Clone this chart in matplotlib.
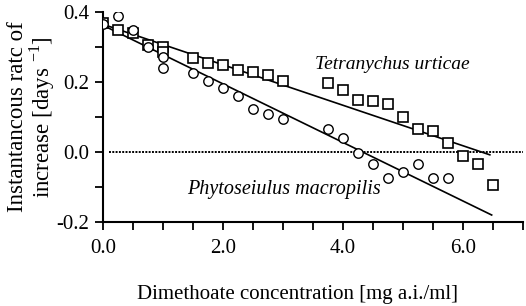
import matplotlib
matplotlib.use('Agg')
import matplotlib.pyplot as plt

plt.rcParams['font.family'] = 'Liberation Serif'
plt.rcParams['mathtext.fontset'] = 'custom'
plt.rcParams['mathtext.rm'] = 'Liberation Serif'

# Tetranychus urticae (squares)
tu_x = [0, 0.25, 0.5, 0.75, 1.0, 1.0, 1.5, 1.75, 2.0, 2.25, 2.5, 2.75, 3.0,
        3.75, 4.0, 4.25, 4.5, 4.75, 5.0, 5.25, 5.5, 5.75, 6.0, 6.25, 6.5]
tu_y = [0.368, 0.349, 0.339, 0.305, 0.300, 0.287, 0.270, 0.255, 0.249, 0.234,
        0.228, 0.220, 0.203, 0.196, 0.177, 0.150, 0.146, 0.136, 0.099, 0.065,
        0.061, 0.025, -0.011, -0.034, -0.094]

# Phytoseiulus macropilis (circles)
pm_x = [0, 0.25, 0.5, 0.75, 1.0, 1.0, 1.5, 1.75, 2.0, 2.25, 2.5, 2.75, 3.0,
        3.75, 4.0, 4.25, 4.5, 4.75, 5.0, 5.25, 5.5, 5.75]
pm_y = [0.365, 0.389, 0.349, 0.300, 0.272, 0.241, 0.227, 0.203, 0.182, 0.160,
        0.122, 0.108, 0.094, 0.065, 0.039, -0.004, -0.035, -0.073, -0.056,
        -0.035, -0.073, -0.073]

# fitted lines
tu_fit_x = [0, 6.45]
tu_fit_y = [0.365, -0.008]
pm_fit_x = [0, 6.48]
pm_fit_y = [0.362, -0.180]

zero_x = [0.1, 7.0]
zero_y = [0, 0]

xticks = [0, 2, 4, 6]
xticklabels = ['0.0', '2.0', '4.0', '6.0']
yticks = [-0.2, 0.0, 0.2, 0.4]
yticklabels = ['-0.2', '0.0', '0.2', '0.4']

fig = plt.figure(figsize=(5.26, 3.06), dpi=100)
ax = fig.add_axes([0.196, 0.2745, 0.798, 0.686])

ax.plot(zero_x, zero_y, color='black', linestyle=(0, (1, 0.7)), lw=1.4, zorder=1)
ax.plot(tu_fit_x, tu_fit_y, color='black', lw=1.2, zorder=2)
ax.plot(pm_fit_x, pm_fit_y, color='black', lw=1.2, zorder=2)
ax.plot(tu_x, tu_y, 's', ms=6.8, mfc='white', mec='black', mew=1.2, zorder=3)
ax.plot(pm_x, pm_y, 'o', ms=6.8, mfc='white', mec='black', mew=1.0, zorder=3)

ax.text(4.83, 0.251, 'Tetranychus urticae', style='italic', fontsize=14,
        ha='center', va='center')
ax.text(3.02, -0.108, 'Phytoseiulus macropilis', style='italic', fontsize=14.5,
        ha='center', va='center')

ax.set_xlim(0, 7)
ax.set_ylim(-0.2, 0.4)
ax.set_xticks([i * 0.5 for i in range(15)], minor=True)
ax.set_xticks(xticks)
ax.set_xticklabels(xticklabels)
ax.set_yticks([i * 0.1 - 0.2 for i in range(7)], minor=True)
ax.set_yticks(yticks)
ax.set_yticklabels(yticklabels)
ax.tick_params(which='both', direction='out', length=6, width=1.3, labelsize=15)
ax.tick_params(axis='x', pad=6)
ax.tick_params(axis='y', pad=4)

for s in ['top', 'right']:
    ax.spines[s].set_visible(False)
for s in ['left', 'bottom']:
    ax.spines[s].set_linewidth(1.5)

ax.set_xlabel('Dimethoate concentration [mg a.i./ml]', fontsize=15)
ax.xaxis.set_label_coords(0.464, -0.30)
ax.set_ylabel('Instantancous ratc of\nincrease [days $^{-1}$]', fontsize=16.5,
              linespacing=0.95)
ax.yaxis.set_label_coords(-0.11, 0.5)

fig.savefig('out.png', dpi=100)
